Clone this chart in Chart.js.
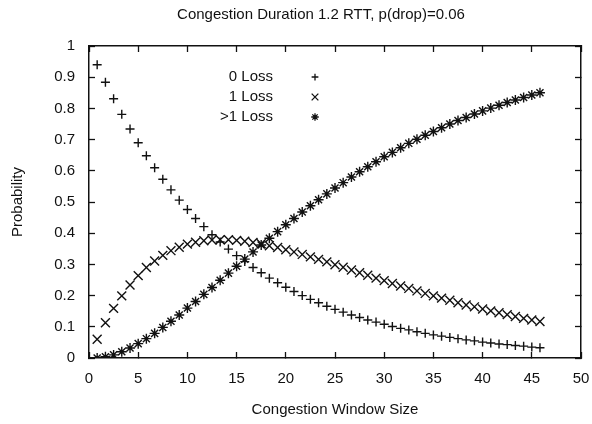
<!DOCTYPE html>
<html>
<head>
<meta charset="utf-8">
<script src="https://cdn.jsdelivr.net/npm/chart.js@4"></script>
<style>
  html, body { margin: 0; padding: 0; background: #fff; }
</style>
</head>
<body>
<canvas id="chart" width="592" height="424"></canvas>
<script>
// congestion window sizes (x)
const windowSizes = [0.83, 1.67, 2.5, 3.33, 4.17, 5, 5.83, 6.67, 7.5, 8.33, 9.17, 10, 10.83, 11.67, 12.5,
  13.33, 14.17, 15, 15.83, 16.67, 17.5, 18.33, 19.17, 20, 20.83, 21.67, 22.5, 23.33, 24.17, 25,
  25.83, 26.67, 27.5, 28.33, 29.17, 30, 30.83, 31.67, 32.5, 33.33, 34.17, 35, 35.83, 36.67, 37.5,
  38.33, 39.17, 40, 40.83, 41.67, 42.5, 43.33, 44.17, 45, 45.83];

const zeroLoss = [0.940, 0.884, 0.831, 0.781, 0.734, 0.690, 0.648, 0.610, 0.573, 0.539, 0.506, 0.476,
  0.447, 0.421, 0.395, 0.372, 0.349, 0.328, 0.309, 0.290, 0.273, 0.256, 0.241, 0.227, 0.213, 0.200,
  0.188, 0.177, 0.166, 0.156, 0.147, 0.138, 0.130, 0.122, 0.115, 0.108, 0.101, 0.095, 0.090, 0.084,
  0.079, 0.074, 0.070, 0.066, 0.062, 0.058, 0.055, 0.051, 0.048, 0.045, 0.043, 0.040, 0.038, 0.035, 0.033];

const oneLoss = [0.060, 0.113, 0.159, 0.199, 0.234, 0.264, 0.290, 0.311, 0.329, 0.344, 0.355, 0.365,
  0.371, 0.376, 0.378, 0.379, 0.379, 0.377, 0.374, 0.370, 0.366, 0.360, 0.354, 0.347, 0.340, 0.332,
  0.324, 0.316, 0.308, 0.299, 0.291, 0.282, 0.273, 0.265, 0.256, 0.248, 0.239, 0.231, 0.223, 0.215,
  0.207, 0.199, 0.192, 0.185, 0.177, 0.170, 0.164, 0.157, 0.151, 0.145, 0.139, 0.133, 0.127, 0.122, 0.117];

const multiLoss = [0.000, 0.004, 0.010, 0.020, 0.032, 0.046, 0.062, 0.079, 0.098, 0.118, 0.138, 0.160,
  0.181, 0.204, 0.226, 0.249, 0.272, 0.294, 0.317, 0.340, 0.362, 0.384, 0.405, 0.427, 0.447, 0.468,
  0.488, 0.507, 0.526, 0.545, 0.562, 0.580, 0.597, 0.613, 0.629, 0.645, 0.659, 0.674, 0.688, 0.701,
  0.714, 0.726, 0.738, 0.750, 0.761, 0.771, 0.782, 0.792, 0.801, 0.810, 0.819, 0.827, 0.835, 0.843, 0.850];

const seriesNames = ['0 Loss', '1 Loss', '>1 Loss'];
const seriesStyles = ['cross', 'crossRot', 'star'];
const markerSizes = [4.5, 6.3, 5];
const xTicks = [0, 5, 10, 15, 20, 25, 30, 35, 40, 45, 50];
const yTicks = [0, 0.1, 0.2, 0.3, 0.4, 0.5, 0.6, 0.7, 0.8, 0.9, 1];

const FONT = "'Liberation Sans', Arial, Helvetica, sans-serif";
const INK = '#111';

const toPoints = (ys) => ys.map((y, i) => ({ x: windowSizes[i], y: y }));

// frame lines and ticks come from the axes themselves (inward ticks via negative length)
const frameAxis = (extra) => Object.assign({
  border: { display: true, color: INK, width: 1.5 },
  grid: { display: true, drawOnChartArea: false, drawTicks: true, tickLength: -6, tickWidth: 1.3, color: INK }
}, extra);

// title and key, like gnuplot
const titleAndKey = {
  id: 'titleAndKey',
  afterDraw(chart) {
    const ctx = chart.ctx;
    ctx.save();
    ctx.fillStyle = INK;
    ctx.strokeStyle = INK;
    ctx.font = '15px ' + FONT;
    ctx.textAlign = 'center';
    ctx.textBaseline = 'middle';
    ctx.fillText('Congestion Duration 1.2 RTT, p(drop)=0.06', 321, 15);

    ctx.textAlign = 'right';
    ctx.lineWidth = 1.3;
    seriesNames.forEach((name, i) => {
      const y = 77 + i * 20;
      ctx.fillText(name, 273, y);
      Chart.helpers.drawPoint(ctx, { pointStyle: seriesStyles[i], radius: markerSizes[i] * 0.75, borderWidth: 1 }, 315, y);
    });
    ctx.restore();
  }
};

new Chart(document.getElementById('chart'), {
  type: 'scatter',
  data: {
    datasets: [zeroLoss, oneLoss, multiLoss].map((ys, i) => ({
      label: seriesNames[i],
      data: toPoints(ys),
      pointStyle: seriesStyles[i],
      pointRadius: markerSizes[i],
      pointBorderWidth: 1.4,
      borderColor: INK,
      backgroundColor: INK
    }))
  },
  options: {
    responsive: false,
    animation: false,
    layout: { padding: { top: 46, right: 11, left: 0, bottom: 0 } },
    plugins: {
      legend: { display: false },
      tooltip: { enabled: false }
    },
    scales: {
      x: frameAxis({
        type: 'linear',
        position: 'bottom',
        min: 0,
        max: 50,
        afterFit: (s) => { s.height = 66; s.paddingLeft = 0; s.paddingRight = 0; },
        afterBuildTicks: (s) => { s.ticks = xTicks.map(v => ({ value: v })); },
        ticks: { color: INK, font: { family: FONT, size: 15 }, padding: 18 },
        title: {
          display: true,
          text: 'Congestion Window Size',
          color: INK,
          font: { family: FONT, size: 15 },
          padding: { top: 0, bottom: 5 }
        }
      }),
      x2: frameAxis({
        type: 'linear',
        position: 'top',
        min: 0,
        max: 50,
        afterFit: (s) => { s.height = 0; s.paddingLeft = 0; s.paddingRight = 0; },
        afterBuildTicks: (s) => { s.ticks = xTicks.map(v => ({ value: v })); },
        ticks: { display: false }
      }),
      y: frameAxis({
        type: 'linear',
        position: 'left',
        min: 0,
        max: 1,
        afterFit: (s) => { s.width = 89; s.paddingTop = 0; s.paddingBottom = 0; },
        afterBuildTicks: (s) => { s.ticks = yTicks.map(v => ({ value: v })); },
        ticks: {
          color: INK,
          font: { family: FONT, size: 15 },
          padding: 20,
          callback: (v) => String(Math.round(v * 10) / 10)
        },
        title: {
          display: true,
          text: 'Probability',
          color: INK,
          font: { family: FONT, size: 15 },
          padding: { top: 9, bottom: 0 }
        }
      }),
      y2: frameAxis({
        type: 'linear',
        position: 'right',
        min: 0,
        max: 1,
        afterFit: (s) => { s.width = 0; s.paddingTop = 0; s.paddingBottom = 0; },
        afterBuildTicks: (s) => { s.ticks = yTicks.map(v => ({ value: v })); },
        ticks: { display: false }
      })
    }
  },
  plugins: [titleAndKey]
});
</script>
</body>
</html>
